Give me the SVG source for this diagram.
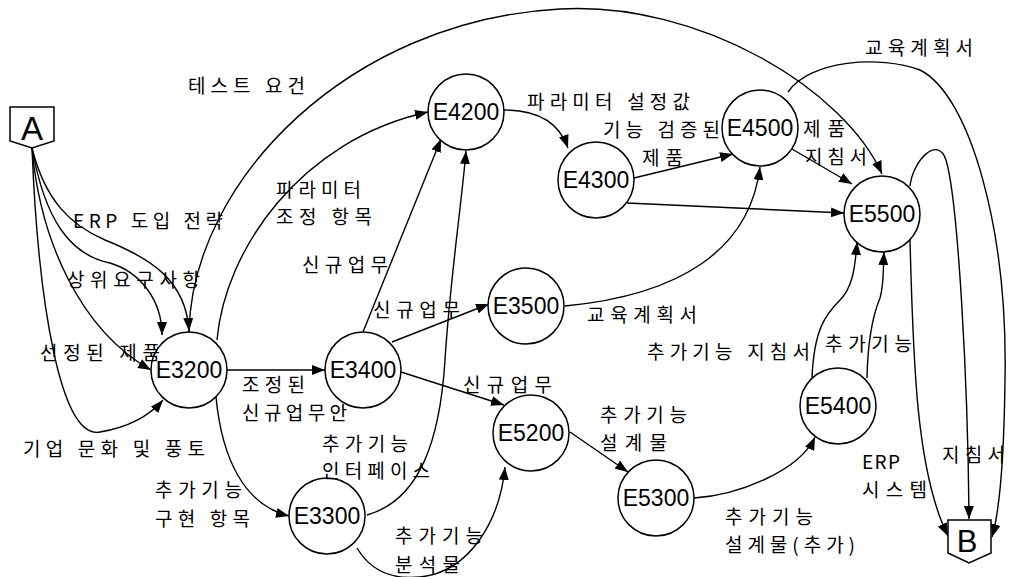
<svg xmlns="http://www.w3.org/2000/svg" width="1010" height="577" viewBox="0 0 1010 577">
<style>
.n{fill:#fff;stroke:#000;stroke-width:1.5}
.nt{font-family:"Liberation Sans",Arial,sans-serif;font-size:23px;text-anchor:middle;fill:#000}
.c{fill:none;stroke:#000;stroke-width:1.4}
.a{marker-end:url(#ah)}
.l{font-family:"Noto Sans CJK KR","Liberation Sans",sans-serif;font-size:19px;fill:#000}
</style>
<defs>
<marker id="ah" markerUnits="userSpaceOnUse" markerWidth="14" markerHeight="10" refX="13" refY="5" orient="auto">
<path d="M0,0 L13,5 L0,10 z" fill="#000"/>
</marker>
</defs>
<rect width="1010" height="577" fill="#fff"/>
<g id="connectors">
<path class="c a" d="M32,148 C45,200 70,225 105,240 C150,258 186,280 189,331"/>
<path class="c a" d="M32,148 C45,220 70,255 110,263 C140,272 162,300 162,335"/>
<path class="c a" d="M32,148 C40,240 80,330 151,370"/>
<path class="c a" d="M32,148 C38,300 60,440 100,432 C130,427 150,415 163,400"/>
<path class="c a" d="M189,332 C192,180 350,20 560,9 C700,1 845,90 882,174"/>
<path class="c a" d="M217,340 C225,250 300,140 428,112"/>
<path class="c a" d="M227,370 L325,370"/>
<path class="c a" d="M216,397 C222,460 245,505 289,516"/>
<path class="c a" d="M363,332 L441,139"/>
<path class="c a" d="M367,515 C420,500 440,440 445,360 C450,280 462,200 466,151"/>
<path class="c a" d="M392,342 L489,304"/>
<path class="c a" d="M401,372 L504,405"/>
<path class="c a" d="M357,548 C370,570 390,580 420,577 C470,572 500,520 505,467"/>
<path class="c a" d="M570,432 L628,472"/>
<path class="c a" d="M694,498 C740,495 800,470 815,437"/>
<path class="c a" d="M812,378 C814,330 825,315 840,300 C852,288 855,270 857,242"/>
<path class="c a" d="M867,378 C868,330 875,310 880,298 C884,285 883,270 884,252"/>
<path class="c a" d="M504,110 C540,110 560,125 568,148"/>
<path class="c a" d="M634,178 L733,154"/>
<path class="c a" d="M627,203 L844,213"/>
<path class="c a" d="M565,306 C680,295 750,250 760,167"/>
<path class="c a" d="M792,149 L852,184"/>
<path class="c a" d="M788,92 C810,60 880,55 920,70 C970,95 1008,230 1005,380 C1004,460 1000,510 992,537"/>
<path class="c a" d="M910,186 C913,160 938,135 946,160 C958,200 968,380 969,519"/>
<path class="c a" d="M910,240 C913,350 915,470 948,536"/>
</g>
<g id="A">
<polygon class="n" points="10,107 54,107 54,141 32,148 10,141"/>
<text x="32" y="140" font-family="Liberation Sans,Arial,sans-serif" font-size="33" text-anchor="middle">A</text>
</g>
<g id="B">
<polygon class="n" points="948,520 991,520 991,553 969,563 948,553"/>
<text x="967" y="552" font-family="Liberation Sans,Arial,sans-serif" font-size="31" text-anchor="middle">B</text>
</g>
<g id="E3200"><circle class="n" cx="189" cy="370" r="38"/><text class="nt" x="189" y="378">E3200</text></g>
<g id="E3300"><circle class="n" cx="327" cy="516" r="38"/><text class="nt" x="327" y="524">E3300</text></g>
<g id="E3400"><circle class="n" cx="363" cy="370" r="38"/><text class="nt" x="363" y="378">E3400</text></g>
<g id="E3500"><circle class="n" cx="526" cy="306" r="38"/><text class="nt" x="526" y="314">E3500</text></g>
<g id="E4200"><circle class="n" cx="466" cy="112" r="38"/><text class="nt" x="466" y="120">E4200</text></g>
<g id="E4300"><circle class="n" cx="596" cy="180" r="38"/><text class="nt" x="596" y="188">E4300</text></g>
<g id="E4500"><circle class="n" cx="760" cy="128" r="38"/><text class="nt" x="760" y="136">E4500</text></g>
<g id="E5200"><circle class="n" cx="531" cy="433" r="38"/><text class="nt" x="531" y="441">E5200</text></g>
<g id="E5300"><circle class="n" cx="656" cy="498" r="38"/><text class="nt" x="656" y="506">E5300</text></g>
<g id="E5400"><circle class="n" cx="838" cy="406" r="38"/><text class="nt" x="838" y="414">E5400</text></g>
<g id="E5500"><circle class="n" cx="882" cy="214" r="38"/><text class="nt" x="882" y="222">E5500</text></g>
<g id="labels">
<text class="l" x="188" y="93" textLength="117" lengthAdjust="spacing">테스트 요건</text>
<text class="l" x="865" y="55" textLength="108" lengthAdjust="spacing">교육계획서</text>
<text class="l" x="527" y="109" textLength="163" lengthAdjust="spacing">파라미터 설정값</text>
<text class="l" x="603" y="137" textLength="117" lengthAdjust="spacing">기능 검증된</text>
<text class="l" x="642" y="165" textLength="41" lengthAdjust="spacing">제품</text>
<text class="l" x="803" y="136" textLength="42" lengthAdjust="spacing">제품</text>
<text class="l" x="805" y="164" textLength="62" lengthAdjust="spacing">지침서</text>
<text class="l" x="276" y="197" textLength="85" lengthAdjust="spacing">파라미터</text>
<text class="l" x="276" y="224" textLength="96" lengthAdjust="spacing">조정 항목</text>
<text class="l" x="73" y="228" textLength="150" lengthAdjust="spacing">ERP 도입 전략</text>
<text class="l" x="67" y="287" textLength="133" lengthAdjust="spacing">상위요구사항</text>
<text class="l" x="40" y="360" textLength="120" lengthAdjust="spacing">선정된 제품</text>
<text class="l" x="23" y="456" textLength="182" lengthAdjust="spacing">기업 문화 및 풍토</text>
<text class="l" x="302" y="272" textLength="86" lengthAdjust="spacing">신규업무</text>
<text class="l" x="373" y="317" textLength="87" lengthAdjust="spacing">신규업무</text>
<text class="l" x="587" y="322" textLength="110" lengthAdjust="spacing">교육계획서</text>
<text class="l" x="647" y="359" textLength="163" lengthAdjust="spacing">추가기능 지침서</text>
<text class="l" x="825" y="351" textLength="87" lengthAdjust="spacing">추가기능</text>
<text class="l" x="242" y="392" textLength="63" lengthAdjust="spacing">조정된</text>
<text class="l" x="242" y="420" textLength="105" lengthAdjust="spacing">신규업무안</text>
<text class="l" x="463" y="392" textLength="89" lengthAdjust="spacing">신규업무</text>
<text class="l" x="322" y="451" textLength="86" lengthAdjust="spacing">추가기능</text>
<text class="l" x="322" y="478" textLength="108" lengthAdjust="spacing">인터페이스</text>
<text class="l" x="155" y="497" textLength="87" lengthAdjust="spacing">추가기능</text>
<text class="l" x="155" y="526" textLength="95" lengthAdjust="spacing">구현 항목</text>
<text class="l" x="395" y="543" textLength="88" lengthAdjust="spacing">추가기능</text>
<text class="l" x="395" y="572" textLength="65" lengthAdjust="spacing">분석물</text>
<text class="l" x="600" y="422" textLength="87" lengthAdjust="spacing">추가기능</text>
<text class="l" x="600" y="450" textLength="67" lengthAdjust="spacing">설계물</text>
<text class="l" x="725" y="524" textLength="88" lengthAdjust="spacing">추가기능</text>
<text class="l" x="725" y="552" textLength="130" lengthAdjust="spacing">설계물(추가)</text>
<text class="l" x="862" y="469" textLength="38" lengthAdjust="spacing">ERP</text>
<text class="l" x="862" y="497" textLength="65" lengthAdjust="spacing">시스템</text>
<text class="l" x="942" y="462" textLength="63" lengthAdjust="spacing">지침서</text>
</g>
</svg>
